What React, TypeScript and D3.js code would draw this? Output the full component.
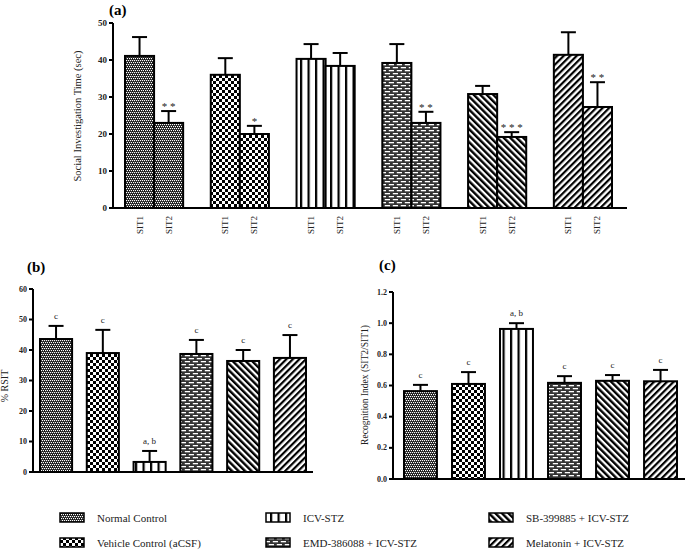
import React from "react";
import * as d3 from "d3";

const groups = [
  "Normal Control",
  "Vehicle Control (aCSF)",
  "ICV-STZ",
  "EMD-386088 + ICV-STZ",
  "SB-399885 + ICV-STZ",
  "Melatonin + ICV-STZ",
];
const patternIds = ["pNormal", "pVehicle", "pIcv", "pEmd", "pSb", "pMel"];

const sitLabels = ["SIT1", "SIT2"];
const sit1Mean = [41.1, 36.0, 40.3, 39.2, 30.8, 41.4];
const sit1Err = [5.1, 4.5, 4.0, 5.1, 2.2, 6.1];
const sit2Mean = [23.0, 20.0, 38.4, 23.0, 19.2, 27.3];
const sit2Err = [3.2, 2.2, 3.5, 3.0, 1.3, 6.7];
const sit2Stars = ["* *", "*", "", "* *", "* * *", "* *"];
const aTicks = [0, 10, 20, 30, 40, 50];

const rsitMean = [43.6, 39.0, 3.3, 38.7, 36.4, 37.4];
const rsitErr = [4.3, 7.6, 3.6, 4.6, 3.6, 7.5];
const bTicks = [0, 10, 20, 30, 40, 50, 60];

const riMean = [0.564, 0.61, 0.963, 0.617, 0.63, 0.627];
const riErr = [0.04, 0.076, 0.037, 0.043, 0.037, 0.073];
const cTicks = [0, 0.2, 0.4, 0.6, 0.8, 1.0, 1.2];

const sigLetters = ["c", "c", "a, b", "c", "c", "c"];

const txt = { fontFamily: "'Liberation Serif', serif" };

function Patterns() {
  return (
    <defs>
      <pattern id="pNormal" patternUnits="userSpaceOnUse" width="4" height="4">
        <rect width="4" height="4" fill="#111" />
        <rect x="0" y="0" width="1.2" height="1.2" fill="#fff" />
        <rect x="2" y="0" width="1.2" height="1.2" fill="#fff" />
        <rect x="1" y="2" width="1.2" height="1.2" fill="#fff" />
        <rect x="3" y="2" width="1.2" height="1.2" fill="#fff" />
      </pattern>
      <pattern id="pVehicle" patternUnits="userSpaceOnUse" width="6" height="6">
        <rect width="6" height="6" fill="#fff" />
        <rect x="0" y="0" width="3" height="3" fill="#000" />
        <rect x="3" y="3" width="3" height="3" fill="#000" />
      </pattern>
      <pattern id="pIcv" patternUnits="userSpaceOnUse" width="7.5" height="10">
        <rect width="7.5" height="10" fill="#fff" />
        <rect x="0" y="0" width="2.2" height="10" fill="#000" />
      </pattern>
      <pattern id="pEmd" patternUnits="userSpaceOnUse" width="8" height="6">
        <rect width="8" height="6" fill="#333" />
        <rect x="0.8" y="1" width="5.2" height="1.3" fill="#fff" />
        <rect x="4.8" y="4" width="5.2" height="1.3" fill="#fff" />
        <rect x="-3.2" y="4" width="5.2" height="1.3" fill="#fff" />
      </pattern>
      <pattern id="pSb" patternUnits="userSpaceOnUse" width="4.6" height="10" patternTransform="rotate(-45)">
        <rect width="4.6" height="10" fill="#fff" />
        <rect x="0" y="0" width="2.4" height="10" fill="#000" />
      </pattern>
      <pattern id="pMel" patternUnits="userSpaceOnUse" width="4.6" height="10" patternTransform="rotate(45)">
        <rect width="4.6" height="10" fill="#fff" />
        <rect x="0" y="0" width="2.2" height="10" fill="#000" />
      </pattern>
    </defs>
  );
}

type YAxisProps = {
  x: number;
  y: d3.ScaleLinear<number, number>;
  ticks: number[];
  fmt: (v: number) => string;
  fontSize: number;
};

function YAxis({ x, y, ticks, fmt, fontSize }: YAxisProps) {
  const [y0, y1] = y.range();
  return (
    <g>
      <line x1={x} x2={x} y1={y0 + 1} y2={y1} stroke="#000" strokeWidth={2} />
      {ticks.map((t) => (
        <g key={t}>
          <line x1={x - 4} x2={x} y1={y(t)} y2={y(t)} stroke="#000" strokeWidth={2} />
          <text
            x={x - 6}
            y={y(t)}
            dy="0.33em"
            textAnchor="end"
            fontSize={fontSize}
            style={txt}
            fontWeight="bold"
            fill="#222"
          >
            {fmt(t)}
          </text>
        </g>
      ))}
    </g>
  );
}

function ErrBar({ cx, yTop, yBar, cap }: { cx: number; yTop: number; yBar: number; cap: number }) {
  return (
    <g stroke="#000" strokeWidth={2}>
      <line x1={cx} x2={cx} y1={yBar} y2={yTop} />
      <line x1={cx - cap / 2} x2={cx + cap / 2} y1={yTop} y2={yTop} />
    </g>
  );
}

function PanelA() {
  const y = d3.scaleLinear().domain([0, 50]).range([208, 23]);
  const gx = d3.scaleBand<number>().domain(d3.range(6)).range([125, 612]).paddingInner(0.322).paddingOuter(0);
  const sub = d3.scaleBand<number>().domain([0, 1]).range([0, gx.bandwidth()]).padding(0);
  const axisX = 113;
  return (
    <g>
      <text x={109} y={15} style={txt} fontWeight="bold" fontSize={15}>(a)</text>
      <text
        transform={`translate(81,116) rotate(-90)`}
        textAnchor="middle"
        style={txt}
        fontSize={10.5}
        fill="#222"
      >
        Social Investigation Time (sec)
      </text>
      {groups.map((g, i) => {
        const means = [sit1Mean[i], sit2Mean[i]];
        const errs = [sit1Err[i], sit2Err[i]];
        return (
          <g key={g}>
            {means.map((m, j) => {
              const x0 = (gx(i) as number) + (sub(j) as number);
              const w = sub.bandwidth();
              const cx = x0 + w / 2;
              const top = y(m + errs[j]);
              return (
                <g key={j}>
                  <ErrBar cx={cx} yTop={top} yBar={y(m)} cap={15} />
                  <rect
                    x={x0}
                    y={y(m)}
                    width={w}
                    height={y(0) - y(m)}
                    fill={`url(#${patternIds[i]})`}
                    stroke="#000"
                    strokeWidth={2}
                  />
                  {j === 1 && sit2Stars[i] && (
                    <text
                      x={cx}
                      y={top - 1}
                      textAnchor="middle"
                      style={txt}
                      fontSize={11}
                      fill="#222"
                    >
                      {sit2Stars[i]}
                    </text>
                  )}
                  <text
                    transform={`translate(${cx},216) rotate(-90)`}
                    textAnchor="end"
                    dy="0.33em"
                    style={txt}
                    fontSize={9}
                    fill="#222"
                  >
                    {sitLabels[j]}
                  </text>
                </g>
              );
            })}
          </g>
        );
      })}
      <YAxis x={axisX} y={y} ticks={aTicks} fmt={(v) => String(v)} fontSize={9} />
      <line x1={axisX - 4} x2={627} y1={y(0)} y2={y(0)} stroke="#000" strokeWidth={2} />
    </g>
  );
}

type SimpleProps = {
  means: number[];
  errs: number[];
  y: d3.ScaleLinear<number, number>;
  range: [number, number];
  axisX: number;
  axisEnd: number;
};

function SimpleBars({ means, errs, y, range, axisX, axisEnd }: SimpleProps) {
  const x = d3.scaleBand<number>().domain(d3.range(6)).range(range).paddingInner(0.314).paddingOuter(0);
  return (
    <g>
      {means.map((m, i) => {
        const x0 = x(i) as number;
        const w = x.bandwidth();
        const cx = x0 + w / 2;
        const top = y(m + errs[i]);
        return (
          <g key={i}>
            <ErrBar cx={cx} yTop={top} yBar={y(m)} cap={15} />
            <rect
              x={x0}
              y={y(m)}
              width={w}
              height={y(0) - y(m)}
              fill={`url(#${patternIds[i]})`}
              stroke="#000"
              strokeWidth={2}
            />
            <text x={cx} y={top - 7} textAnchor="middle" style={txt} fontSize={9} fill="#222">
              {sigLetters[i]}
            </text>
          </g>
        );
      })}
      <line x1={axisX - 4} x2={axisEnd} y1={y(0)} y2={y(0)} stroke="#000" strokeWidth={2} />
    </g>
  );
}

function PanelB() {
  const y = d3.scaleLinear().domain([0, 60]).range([472, 289]);
  const axisX = 33;
  return (
    <g>
      <text x={27} y={272} style={txt} fontWeight="bold" fontSize={15}>(b)</text>
      <text
        transform={`translate(8,386) rotate(-90)`}
        textAnchor="middle"
        style={txt}
        fontSize={10}
        fill="#222"
      >
        % RSIT
      </text>
      <SimpleBars means={rsitMean} errs={rsitErr} y={y} range={[40, 306]} axisX={axisX} axisEnd={313} />
      <YAxis x={axisX} y={y} ticks={bTicks} fmt={(v) => String(v)} fontSize={8} />
    </g>
  );
}

function PanelC() {
  const y = d3.scaleLinear().domain([0, 1.2]).range([479, 292]);
  const axisX = 393;
  return (
    <g>
      <text x={379} y={270} style={txt} fontWeight="bold" fontSize={15}>(c)</text>
      <text
        transform={`translate(368,385) rotate(-90)`}
        textAnchor="middle"
        style={txt}
        fontSize={9.5}
        fill="#222"
      >
        Recognition Index (SIT2/SIT1)
      </text>
      <SimpleBars means={riMean} errs={riErr} y={y} range={[404, 677]} axisX={axisX} axisEnd={685} />
      <YAxis x={axisX} y={y} ticks={cTicks} fmt={d3.format(".1f")} fontSize={8} />
    </g>
  );
}

const legendCols = [60, 266, 489];
const legendRows = [518, 543];

function Legend() {
  return (
    <g>
      {groups.map((g, i) => {
        const col = Math.floor(i / 2);
        const row = i % 2;
        const x = legendCols[col];
        const yy = legendRows[row];
        return (
          <g key={g}>
            <rect
              x={x}
              y={yy - 5}
              width={24}
              height={9}
              fill={`url(#${patternIds[i]})`}
              stroke="#000"
              strokeWidth={1.5}
            />
            <text x={x + 37} y={yy} dy="0.33em" style={txt} fontSize={11} fill="#222">
              {g}
            </text>
          </g>
        );
      })}
    </g>
  );
}

export default function App() {
  return (
    <svg
      width={685}
      height={550}
      style={{ position: "absolute", left: 0, top: 0, background: "#fff", fontFamily: "'Liberation Serif', serif" }}
    >
      <Patterns />
      <rect width={685} height={550} fill="#fff" />
      <PanelA />
      <PanelB />
      <PanelC />
      <Legend />
    </svg>
  );
}
